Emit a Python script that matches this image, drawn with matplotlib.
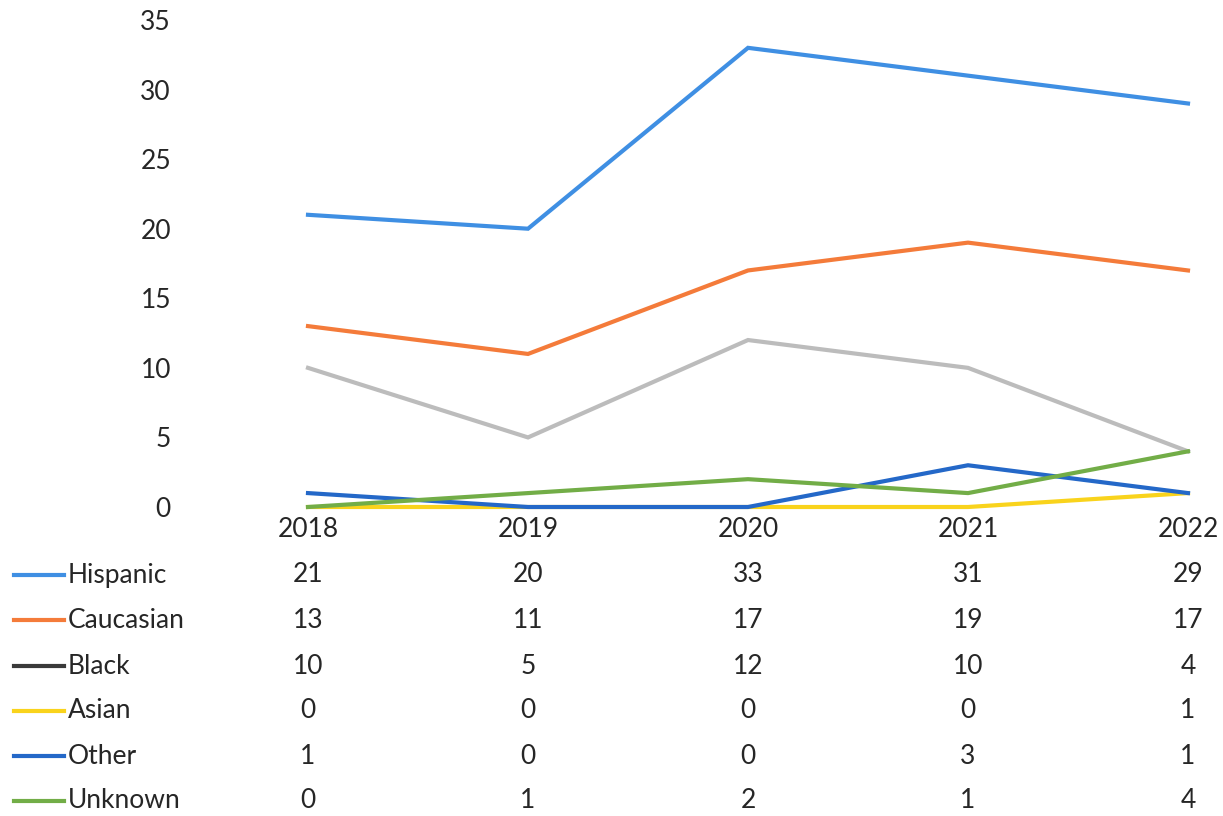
import matplotlib.pyplot as plt
from matplotlib.lines import Line2D
from matplotlib.transforms import blended_transform_factory

years = ["2018", "2019", "2020", "2021", "2022"]
groups = ["Hispanic", "Caucasian", "Black", "Asian", "Other", "Unknown"]
hispanic = [21, 20, 33, 31, 29]
caucasian = [13, 11, 17, 19, 17]
black = [10, 5, 12, 10, 4]
asian = [0, 0, 0, 0, 1]
other = [1, 0, 0, 3, 1]
unknown = [0, 1, 2, 1, 4]
series = [hispanic, caucasian, black, asian, other, unknown]
line_colors = ["#3f8fe3", "#f47b3a", "#bcbcbc", "#f9d31c", "#2468c8", "#72ad47"]
key_colors = ["#3f8fe3", "#f47b3a", "#3a3a3a", "#f9d31c", "#2468c8", "#72ad47"]

plt.rcParams['font.family'] = ['Lato', 'DejaVu Sans']
W, H = 1223, 816
fig = plt.figure(figsize=(W / 100, H / 100), dpi=100)

# plot area in pixels: x 198..1213, y 20..507
ax = fig.add_axes([198 / W, (H - 507) / H, 1015 / W, 487 / H])
x = list(range(len(years)))
for vals, c in zip(series, line_colors):
    ax.plot(x, vals, color=c, lw=3, solid_joinstyle='miter', clip_on=False)

ax.set_xlim(-0.5, -0.5 + 1015 / 220)
ax.set_ylim(0, 35)
ax.set_yticks(range(0, 36, 5))
ax.set_xticks(x)
ax.set_xticklabels(years)
ax.tick_params(axis='both', length=0, labelsize=19, colors='#262626')
ax.tick_params(axis='y', pad=19.5)
ax.tick_params(axis='x', pad=7)
for s in ax.spines.values():
    s.set_visible(False)

# data table below the chart
tr = blended_transform_factory(ax.transData, fig.transFigure)
row_y = [575, 620, 666, 711, 756, 801]
for name, vals, kc, py in zip(groups, series, key_colors, row_y):
    fy = (H - py) / H
    fig.add_artist(Line2D([14 / W, 64 / W], [fy, fy], color=kc, lw=3,
                          transform=fig.transFigure))
    fig.text(68 / W, fy, name, fontsize=19, color='#262626', va='center', ha='left')
    for xi, v in zip(x, vals):
        ax.text(xi, fy, str(v), transform=tr, fontsize=19, color='#262626',
                ha='center', va='center', clip_on=False)

fig.savefig("out.png", dpi=100, facecolor='white')
